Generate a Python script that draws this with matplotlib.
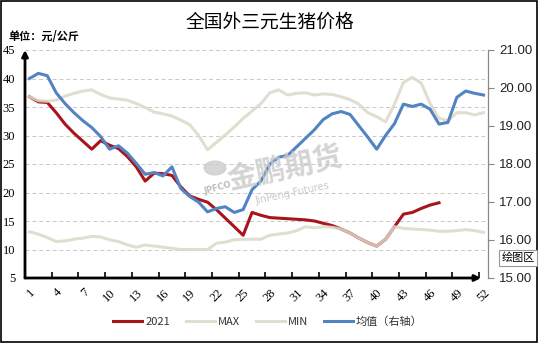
import numpy as np
import matplotlib
matplotlib.use('Agg')
import matplotlib.pyplot as plt
from matplotlib.patches import Rectangle

plt.rcParams['font.family'] = ['Noto Sans CJK SC', 'DejaVu Sans']

weeks = np.arange(1, 53)

# 2021 price, weeks 1-47 (yuan/kg)
y2021 = [36.8, 35.9, 35.8, 34.0, 32.0, 30.4, 29.0, 27.6, 29.1, 28.3,
         27.7, 26.3, 24.5, 22.0, 23.4, 23.3, 23.0, 21.0, 19.4, 18.8,
         18.3, 17.0, 15.5, 14.0, 12.5, 16.5, 16.0, 15.6, 15.5, 15.4,
         15.3, 15.2, 15.0, 14.6, 14.2, 13.6, 12.9, 12.0, 11.2, 10.6,
         11.8, 14.0, 16.2, 16.5, 17.2, 17.8, 18.2]

max_vals = [36.8, 36.1, 36.0, 36.2, 36.9, 37.4, 37.8, 38.0, 37.2, 36.6,
            36.4, 36.2, 35.6, 34.9, 34.1, 33.8, 33.4, 32.7, 31.9, 30.0,
            27.5, 28.8, 30.1, 31.5, 33.0, 34.3, 35.6, 37.5, 38.0, 37.1,
            37.4, 37.5, 37.1, 37.3, 37.2, 36.8, 36.3, 35.5, 34.0, 33.3,
            32.4, 35.5, 39.3, 40.2, 39.2, 35.6, 33.0, 32.6, 34.0, 34.0,
            33.6, 34.0]

min_vals = [13.1, 12.7, 12.1, 11.4, 11.5, 11.8, 12.0, 12.3, 12.2, 11.7,
            11.4, 10.8, 10.4, 10.8, 10.6, 10.4, 10.2, 10.0, 10.0, 10.0,
            10.0, 11.1, 11.3, 11.7, 11.8, 11.8, 11.8, 12.5, 12.7, 12.9,
            13.3, 14.0, 13.8, 14.0, 13.9, 13.6, 12.9, 12.0, 11.2, 10.6,
            11.8, 14.0, 13.7, 13.6, 13.5, 13.4, 13.2, 13.2, 13.3, 13.5,
            13.3, 13.0]

# average, right axis (read on left scale, then converted)
avg_left = [40.0, 40.9, 40.5, 37.5, 35.6, 34.0, 32.6, 31.4, 29.8, 27.6,
            28.2, 26.9, 25.1, 23.2, 23.5, 22.9, 24.5, 20.7, 19.3, 18.3,
            16.6, 17.2, 17.5, 16.5, 17.0, 20.5, 22.0, 25.0, 26.2, 26.5,
            28.0, 29.5, 31.0, 32.8, 33.8, 34.2, 33.7, 31.7, 29.7, 27.6,
            30.0, 32.1, 35.5, 35.1, 35.5, 34.6, 32.0, 32.3, 36.7, 37.8,
            37.4, 37.1]
avg_right = [15 + (v - 5) * 0.15 for v in avg_left]

left_ticks = [5, 10, 15, 20, 25, 30, 35, 40, 45]
right_ticks = [15, 16, 17, 18, 19, 20, 21]
xlabels = list(range(1, 53, 3))

red = '#a8141b'
beige = '#dcd9c8'
blue = '#5283c2'

fig = plt.figure(figsize=(5.39, 3.43), dpi=100)
ax = fig.add_axes([25 / 539, 1 - 278 / 343, 463 / 539, 228 / 343])
ax2 = ax.twinx()

ax.plot(weeks[:len(y2021)], y2021, color=red, lw=2.2, zorder=3, label='2021')
ax.plot(weeks, max_vals, color=beige, lw=2.2, alpha=0.85, zorder=4, label='MAX')
ax.plot(weeks, min_vals, color=beige, lw=2.2, alpha=0.85, zorder=4, label='MIN')
ax2.plot(weeks, avg_right, color=blue, lw=2.2, zorder=5, label='均值（右轴）')

ax.set_xlim(0.5, 52.5)
ax.set_ylim(5, 45)
ax2.set_ylim(15, 21)
ax.set_yticks(left_ticks)
ax2.set_yticks(right_ticks)
ax2.set_yticklabels(['%.2f' % t for t in right_ticks], family='Liberation Sans', fontsize=9.5, color='#222222')
ax.set_yticklabels([str(t) for t in left_ticks], family='Liberation Serif', fontsize=9)
ax.tick_params(axis='y', length=0, pad=7)
ax2.tick_params(axis='y', length=4, width=0.8, color='#888888', pad=4)

for t in left_ticks[1:]:
    ax.axhline(t, color='#c8c8c8', lw=0.7, ls=(0, (4, 3)), zorder=1)

ax.set_xticks(np.arange(0.5, 53, 3))
ax.set_xticklabels([])
ax.set_xticks(xlabels, minor=True)
ax.set_xticklabels([str(v) for v in xlabels], minor=True, rotation=45, ha='right',
                   rotation_mode='anchor', family='Liberation Serif', fontsize=9)
ax.tick_params(axis='x', which='major', direction='in', length=4, width=1.2)
ax.tick_params(axis='x', which='minor', length=0, pad=6)

for s in ['top', 'right', 'left', 'bottom']:
    ax.spines[s].set_visible(False)
    ax2.spines[s].set_visible(False)
ax2.spines['right'].set_visible(True)
ax2.spines['right'].set_color('#888888')
ax2.spines['right'].set_linewidth(0.9)

ax.annotate('', xy=(0, 1.0), xytext=(0, 0), xycoords='axes fraction',
            arrowprops=dict(arrowstyle='-|>', lw=2, color='black', mutation_scale=9,
                            shrinkA=0, shrinkB=0), zorder=6)
ax.annotate('', xy=(0.985, 0), xytext=(0, 0), xycoords='axes fraction',
            arrowprops=dict(arrowstyle='-|>', lw=2, color='black', mutation_scale=9,
                            shrinkA=0, shrinkB=0), zorder=6)

# watermark
fig.text(285 / 539, 1 - 168 / 343, '金鹏期货', fontsize=21, color='#c9c9c9', fontweight='bold',
         rotation=12, ha='center', va='center', alpha=0.8)
fig.text(292 / 539, 1 - 193 / 343, 'JinPeng Futures', fontsize=7, color='#c9c9c9',
         rotation=12, ha='center', va='center', family='DejaVu Sans')
fig.text(218 / 539, 1 - 188 / 343, 'JPFCO', fontsize=6, color='#bdbdbd', fontweight='bold',
         rotation=15, ha='center', va='center', family='DejaVu Sans')
fig.patches.append(plt.Circle((215 / 539, 1 - 168 / 343), 0.02, transform=fig.transFigure,
                              color='#cccccc', alpha=0.8))

fig.text(0.5, 1 - 22 / 343, '全国外三元生猪价格', fontsize=13.5, ha='center', va='center')
fig.text(8 / 539, 1 - 36 / 343, '单位：元/公斤', fontsize=8, fontweight='bold', va='center')

h1, l1 = ax.get_legend_handles_labels()
h2, l2 = ax2.get_legend_handles_labels()
leg = fig.legend(h1 + h2, l1 + l2, loc='center', bbox_to_anchor=(268 / 539, 1 - 322 / 343),
                 ncol=4, frameon=False, fontsize=8, handlelength=2.6, columnspacing=1.4,
                 handletextpad=0.3)
for t in leg.get_texts():
    t.set_color('#333333')

fig.text(518 / 539, 1 - 258 / 343, '绘图区', fontsize=8, ha='center', va='center',
         bbox=dict(boxstyle='square,pad=0.25', fc='white', ec='#999999', lw=0.8))

fig.patches.append(Rectangle((0.002, 0.004), 0.994, 0.992, transform=fig.transFigure,
                             fill=False, ec='black', lw=1.2))

fig.savefig('out.png', dpi=100)
